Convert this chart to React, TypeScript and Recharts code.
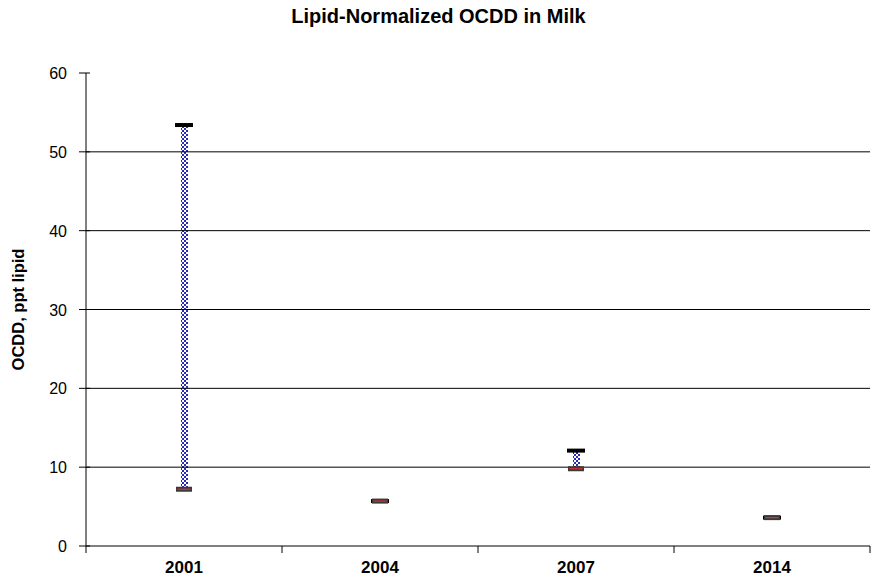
import React from 'react';
import {
  ComposedChart,
  Bar,
  Scatter,
  XAxis,
  YAxis,
  ReferenceLine,
} from 'recharts';

// OCDD (ppt lipid) high/low range per sampling year
const years = ['2001', '2004', '2007', '2014'];
const highValues = [53.4, 5.7, 12.1, 3.6];
const lowValues = [7.2, 5.7, 9.8, 3.6];
const yTicks = [0, 10, 20, 30, 40, 50, 60];
const gridValues = [10, 20, 30, 40, 50];

const rows = years.map((year, i) => ({
  year,
  high: highValues[i],
  low: lowValues[i],
}));

const WIDTH = 877;
const HEIGHT = 584;
const MARGIN = { top: 73, right: 7, bottom: 8, left: 0 };
const Y_AXIS_WIDTH = 86;
const BAND = (WIDTH - MARGIN.left - MARGIN.right - Y_AXIS_WIDTH) / years.length;
const FONT = '"Liberation Sans", Arial, sans-serif';

const RangeBar = (props: any) => {
  const { x, y, width, height } = props;
  if (!height || height <= 0) return null;
  return <rect x={x} y={y} width={width} height={height} fill="url(#checker)" />;
};

const HighCap = (props: any) => {
  const { cx, cy } = props;
  if (cx == null || cy == null) return null;
  return <rect x={cx - 9} y={cy - 2} width={18} height={4} fill="#000" />;
};

const LowCap = (props: any) => {
  const { cx, cy } = props;
  if (cx == null || cy == null) return null;
  return (
    <g>
      <rect x={cx - 8} y={cy - 2.5} width={16} height={5} fill="#3a3a3a" />
      <line x1={cx - 6.5} x2={cx + 6.5} y1={cy} y2={cy} stroke="#e03030" strokeWidth={1.2} />
    </g>
  );
};

// category labels sit centred in the band, tick marks on band edges
const YearTick = (props: any) => {
  const { x, y, payload, index } = props;
  const left = x - BAND / 2;
  const right = x + BAND / 2;
  const axisY = y - 8;
  return (
    <g>
      <line x1={left} x2={left} y1={axisY} y2={axisY + 7} stroke="#000" />
      {index === years.length - 1 && (
        <line x1={right} x2={right} y1={axisY} y2={axisY + 7} stroke="#000" />
      )}
      <text
        x={x}
        y={y + 19}
        textAnchor="middle"
        fontFamily={FONT}
        fontWeight="bold"
        fontSize={17}
        fill="#000"
      >
        {payload.value}
      </text>
    </g>
  );
};

// y ticks cross the axis line slightly (x here is the label anchor, 19px left of the axis)
const ValueTick = (props: any) => {
  const { x, y, payload } = props;
  return (
    <g>
      <line x1={x + 12} x2={x + 23} y1={y} y2={y} stroke="#000" />
      <text
        x={x}
        y={y}
        dy={6}
        textAnchor="end"
        fontFamily={FONT}
        fontSize={16}
        fill="#000"
      >
        {payload.value}
      </text>
    </g>
  );
};

const YLabel = (props: any) => {
  const { viewBox } = props;
  const cx = 24;
  const cy = viewBox.y + viewBox.height / 2;
  return (
    <text
      x={cx}
      y={cy}
      transform={`rotate(-90, ${cx}, ${cy})`}
      textAnchor="middle"
      fontFamily={FONT}
      fontWeight="bold"
      fontSize={16.5}
      fill="#000"
    >
      OCDD, ppt lipid
    </text>
  );
};

export default function App() {
  return (
    <div style={{ position: 'absolute', left: 0, top: 0, width: WIDTH, height: HEIGHT, background: '#fff' }}>
      <div
        style={{
          position: 'absolute',
          top: 5,
          left: 0,
          width: WIDTH,
          textAlign: 'center',
          fontFamily: FONT,
          fontWeight: 'bold',
          fontSize: 20,
          color: '#000',
        }}
      >
        Lipid-Normalized OCDD in Milk
      </div>
      <ComposedChart width={WIDTH} height={HEIGHT} data={rows} margin={MARGIN}>
        <defs>
          <pattern id="checker" width={4} height={4} patternUnits="userSpaceOnUse">
            <rect width={4} height={4} fill="#fff" />
            <rect x={0} y={0} width={2} height={2} fill="#2a2ab8" />
            <rect x={2} y={2} width={2} height={2} fill="#2a2ab8" />
          </pattern>
        </defs>
        {gridValues.map((v) => (
          <ReferenceLine key={v} y={v} stroke="#000" strokeWidth={1} />
        ))}
        <XAxis
          dataKey="year"
          height={30}
          tickLine={false}
          axisLine={{ stroke: '#000' }}
          tick={<YearTick />}
          interval={0}
        />
        <YAxis
          width={Y_AXIS_WIDTH}
          domain={[0, 60]}
          ticks={yTicks}
          interval={0}
          tickSize={7}
          tickMargin={12}
          axisLine={{ stroke: '#000' }}
          tickLine={false}
          tick={<ValueTick />}
          label={<YLabel />}
        />
        <Bar
          dataKey={(d: any) => [d.low, d.high]}
          barSize={7}
          shape={<RangeBar />}
          isAnimationActive={false}
        />
        <Scatter dataKey="high" shape={<HighCap />} isAnimationActive={false} />
        <Scatter dataKey="low" shape={<LowCap />} isAnimationActive={false} />
      </ComposedChart>
    </div>
  );
}
